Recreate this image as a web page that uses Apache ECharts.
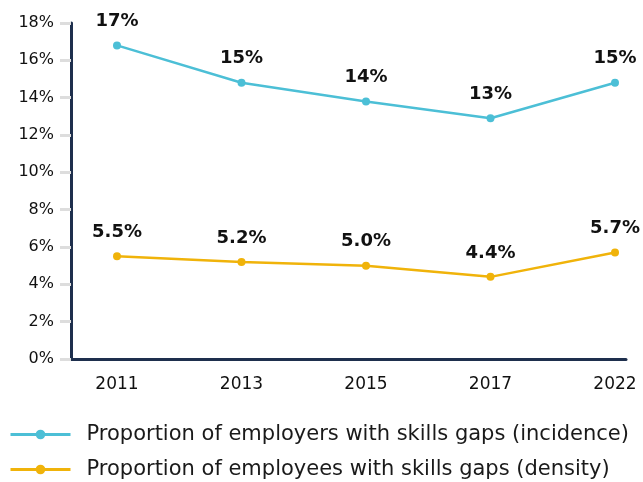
<!DOCTYPE html>
<html>
<head>
<meta charset="utf-8">
<script src="https://cdn.jsdelivr.net/npm/echarts@6/dist/echarts.min.js"></script>
<style>
html,body{margin:0;padding:0;background:#fff;}
#chart{width:643px;height:482px;}
</style>
</head>
<body>
<div id="chart"></div>
<script>
// Survey years and skills-gap shares (%)
const years = ['2011', '2013', '2015', '2017', '2022'];
const incidence = [16.8, 14.8, 13.8, 12.9, 14.8];
const density = [5.5, 5.2, 5.0, 4.4, 5.7];
const seriesNames = [
  'Proportion of employers with skills gaps (incidence)',
  'Proportion of employees with skills gaps (density)'
];
const yTicks = [0, 2, 4, 6, 8, 10, 12, 14, 16, 18];

const FONT = '"DejaVu Sans", "Open Sans", sans-serif';
const BLUE = '#4cbfd6';
const GOLD = '#f0b30a';
const NAVY = '#1e2f4d';

const chart = echarts.init(document.getElementById('chart'));

function labelStyle(digits) {
  return {
    show: true,
    position: 'top',
    distance: 11,
    fontFamily: FONT,
    fontWeight: 'bold',
    fontSize: 18,
    color: '#111',
    formatter: p => p.value.toFixed(digits) + '%'
  };
}

chart.setOption({
  animation: false,
  backgroundColor: '#fff',
  grid: [
    // plotting area for the two series
    { left: 117, right: 28, top: 23, bottom: 123 },
    // frame grid carrying the axis lines and percentage ticks
    { left: 71, right: 17, top: 23, bottom: 123 }
  ],
  xAxis: [
    {
      gridIndex: 0,
      type: 'category',
      data: years,
      boundaryGap: false,
      axisLine: { show: false },
      axisTick: { show: false },
      axisLabel: { margin: 17, fontFamily: FONT, fontSize: 17, color: '#111' }
    },
    {
      gridIndex: 1,
      type: 'value',
      min: 0, max: 1,
      axisLine: { show: true, lineStyle: { color: NAVY, width: 3 } },
      axisTick: { show: false },
      axisLabel: { show: false },
      splitLine: { show: false }
    }
  ],
  yAxis: [
    {
      gridIndex: 0,
      type: 'value',
      min: yTicks[0], max: yTicks[yTicks.length - 1], interval: 2,
      show: false
    },
    {
      gridIndex: 1,
      type: 'value',
      min: yTicks[0], max: yTicks[yTicks.length - 1], interval: 2,
      axisLine: { show: true, lineStyle: { color: NAVY, width: 3 } },
      axisTick: { show: true, inside: false, length: 11, lineStyle: { color: '#dddddd', width: 3 } },
      axisLabel: { margin: 17, fontFamily: FONT, fontSize: 16, color: '#111', formatter: '{value}%' },
      splitLine: { show: false }
    }
  ],
  legend: {
    orient: 'vertical',
    left: 9,
    top: 423,
    padding: 0,
    height: 60,
    itemWidth: 60,
    itemHeight: 12,
    itemGap: 12,
    lineStyle: { width: 3 },
    textStyle: { fontFamily: FONT, fontSize: 21, lineHeight: 23, color: '#1a1a1a', padding: [0, 0, 0, 11] },
    data: seriesNames
  },
  series: [
    {
      name: seriesNames[0],
      type: 'line',
      xAxisIndex: 0, yAxisIndex: 0,
      data: incidence,
      color: BLUE,
      symbol: 'circle',
      symbolSize: 8,
      lineStyle: { width: 2.5, color: BLUE },
      itemStyle: { color: BLUE },
      label: labelStyle(0)
    },
    {
      name: seriesNames[1],
      type: 'line',
      xAxisIndex: 0, yAxisIndex: 0,
      data: density,
      color: GOLD,
      symbol: 'circle',
      symbolSize: 8,
      lineStyle: { width: 2.5, color: GOLD },
      itemStyle: { color: GOLD },
      label: labelStyle(1)
    }
  ]
});
</script>
</body>
</html>
